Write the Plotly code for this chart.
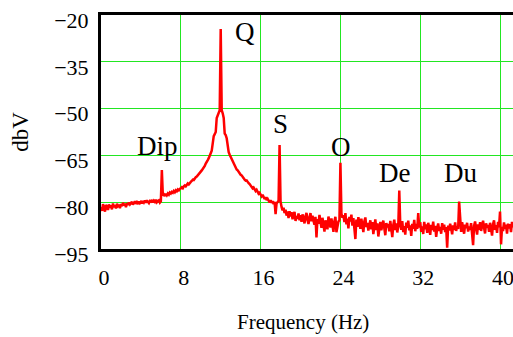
import plotly.graph_objects as go

# Frequency axis samples (Hz), 0.1 Hz spacing, 0 .. 41.3
freq = [round(i * 0.1, 1) for i in range(414)]

# Spectrum level (dBV), one row per Hz
dbv = [
    -81.5, -82.8, -80.6, -81.9, -83.0, -80.9, -81.4, -82.5, -80.7, -81.8,
    -81.0, -82.3, -80.4, -81.6, -80.9, -82.0, -80.5, -81.2, -80.8, -81.9,
    -80.6, -81.3, -80.2, -81.0, -80.5, -81.6, -80.3, -80.9, -80.1, -80.7,
    -80.4, -79.9, -80.8, -80.2, -79.7, -80.5, -80.0, -80.6, -79.8, -80.3,
    -79.9, -80.4, -79.6, -80.1, -79.5, -80.2, -79.4, -79.9, -80.3, -79.6,
    -79.8, -79.3, -80.1, -79.5, -79.9, -79.2, -80.0, -79.6, -79.4, -80.1,
    -79.7, -69.7, -77.9, -77.5, -78.0, -77.3, -77.8, -77.2, -77.6, -76.9,
    -77.2, -76.7, -77.0, -76.4, -76.8, -76.2, -76.5, -75.9, -76.2, -75.7,
    -75.6, -75.2, -75.5, -74.9, -74.6, -74.9, -74.3, -74.0, -74.3, -73.7,
    -73.5, -73.2, -72.8, -72.9, -72.3, -72.0, -71.8, -71.3, -71.0, -70.6,
    -70.2, -69.8, -69.4, -68.7, -68.4, -67.6, -67.2, -66.5, -65.9, -65.3,
    -64.3, -63.5, -61.0, -58.8, -58.2, -57.5, -53.0, -52.0, -51.2, -50.5,
    -24.5, -50.5, -51.5, -53.0, -58.0, -58.5, -59.5, -62.0, -64.0, -64.8,
    -65.5, -66.4, -66.9, -67.5, -68.3, -68.7, -69.5, -69.8, -70.4, -70.6,
    -71.2, -71.4, -72.1, -72.3, -72.8, -73.1, -73.0, -73.7, -73.9, -74.2,
    -74.6, -74.9, -75.6, -75.3, -76.1, -76.4, -76.0, -76.8, -77.3, -77.0,
    -77.8, -78.1, -77.6, -78.5, -79.0, -78.4, -79.3, -78.9, -79.6, -80.1,
    -79.4, -80.2, -79.7, -80.6, -79.9, -83.8, -80.4, -80.0, -79.5, -61.7,
    -79.8, -81.5, -82.6, -81.8, -83.5, -82.4, -84.3, -83.0, -85.1, -82.9,
    -84.6, -83.2, -85.5, -84.0, -83.1, -86.0, -84.4, -85.3, -83.6, -85.8,
    -84.2, -86.3, -83.9, -85.0, -86.8, -84.5, -83.4, -85.7, -87.0, -84.8,
    -83.5, -86.1, -84.3, -85.9, -87.2, -84.7, -91.3, -85.4, -86.9, -84.1,
    -86.5, -88.2, -85.0, -87.6, -89.4, -85.8, -87.0, -88.7, -84.6, -86.3,
    -88.1, -85.2, -87.4, -89.5, -86.0, -84.7, -89.6, -87.0, -86.2, -85.8,
    -67.4, -83.6, -85.0, -84.2, -86.4, -83.5, -87.1, -85.3, -88.4, -84.7,
    -86.2, -84.0, -87.5, -85.1, -88.3, -91.8, -85.6, -87.9, -84.8, -86.7,
    -88.5, -85.3, -87.2, -89.6, -86.1, -84.9, -88.0, -86.6, -89.1, -87.3,
    -85.8, -88.7, -86.4, -90.2, -87.1, -85.5, -88.9, -86.8, -91.0, -87.6,
    -86.3, -89.0, -87.5, -85.9, -88.4, -90.6, -86.7, -88.1, -87.0, -89.3,
    -86.0, -88.6, -91.2, -87.3, -85.6, -88.9, -86.8, -89.7, -87.5, -76.3,
    -87.2, -88.8, -86.1, -89.6, -87.7, -90.4, -86.5, -88.2, -85.9, -89.0,
    -87.4, -90.8, -86.9, -88.5, -85.7, -89.3, -87.0, -88.6, -83.5, -88.1,
    -86.4, -89.5, -87.8, -90.2, -86.3, -88.7, -87.1, -89.8, -86.6, -88.0,
    -90.5, -87.3, -88.9, -86.2, -89.4, -87.6, -91.1, -88.3, -86.8, -89.2,
    -87.9, -90.1, -86.7, -88.8, -87.2, -89.6, -88.0, -94.6, -87.5, -89.1,
    -86.9, -88.4, -90.3, -87.4, -88.9, -86.5, -89.2, -87.7, -88.6, -79.8,
    -87.3, -89.5, -86.4, -88.7, -90.1, -87.2, -88.3, -86.6, -89.4, -87.8,
    -88.9, -86.7, -89.6, -93.8, -87.5, -86.2, -88.5, -90.4, -87.1, -88.8,
    -86.4, -89.2, -87.6, -85.9, -88.3, -90.0, -86.8, -88.1, -87.3, -89.5,
    -86.6, -88.4, -90.7, -87.0, -85.8, -88.9, -87.4, -89.8, -86.3, -88.0,
    -83.0, -93.5, -87.9, -89.3, -86.5, -88.6, -87.2, -90.1, -86.9, -88.4,
    -87.0, -89.6, -86.3, -88.2,
]

# Peak labels
peak_names = ["Dip", "Q", "S", "O", "De", "Du"]
peak_label_x = [5.7, 14.4, 17.95, 24.05, 29.4, 36.0]
peak_label_y = [-62.0, -25.6, -54.9, -62.3, -70.6, -70.6]

x_ticks = [0, 8, 16, 24, 32, 40]
y_ticks = [-95, -80, -65, -50, -35, -20]

FONT = "Liberation Serif"
GRID = "#22e622"

fig = go.Figure()
fig.add_trace(go.Scatter(
    x=freq, y=dbv, mode="lines",
    line=dict(color="#ff0000", width=2.5),
    showlegend=False, hoverinfo="skip",
))

for name, lx, ly in zip(peak_names, peak_label_x, peak_label_y):
    fig.add_annotation(x=lx, y=ly, text=name, showarrow=False,
                       xanchor="center", yanchor="middle",
                       font=dict(family=FONT, size=27, color="black"))

# Axis titles
fig.add_annotation(xref="paper", yref="paper", x=0.49, y=-0.312,
                   text="Frequency (Hz)", showarrow=False,
                   xanchor="center", yanchor="middle",
                   font=dict(family=FONT, size=21, color="black"))
fig.add_annotation(xref="paper", yref="paper", x=-0.197, y=0.5,
                   text="dbV", showarrow=False, textangle=-90,
                   xanchor="center", yanchor="middle",
                   font=dict(family=FONT, size=23, color="black"))

fig.update_layout(
    width=513, height=337,
    margin=dict(l=101, r=0, t=15, b=88),
    paper_bgcolor="white", plot_bgcolor="white",
    font=dict(family=FONT, size=22, color="black"),
    xaxis=dict(
        range=[0, 41.3], tickvals=x_ticks, ticks="",
        showgrid=True, gridcolor=GRID, gridwidth=1,
        zeroline=False, showline=True, linecolor="black", linewidth=3,
        mirror=True, automargin=False, ticklabelstandoff=7,
        ticklabelshift=3, ticklabeloverflow="allow",
        tickfont=dict(family=FONT, size=22, color="black"),
    ),
    yaxis=dict(
        range=[-95, -20], tickvals=y_ticks, ticks="",
        showgrid=True, gridcolor=GRID, gridwidth=1,
        zeroline=False, showline=True, linecolor="black", linewidth=3,
        mirror=False, automargin=False, ticklabelstandoff=5,
        ticklabelshift=5, ticklabeloverflow="allow",
        tickfont=dict(family=FONT, size=22, color="black"),
    ),
)

fig.write_html(
    "out.html",
    config={"displayModeBar": False, "staticPlot": True},
    post_script="document.body.style.margin='0';document.body.style.overflow='hidden';",
)
